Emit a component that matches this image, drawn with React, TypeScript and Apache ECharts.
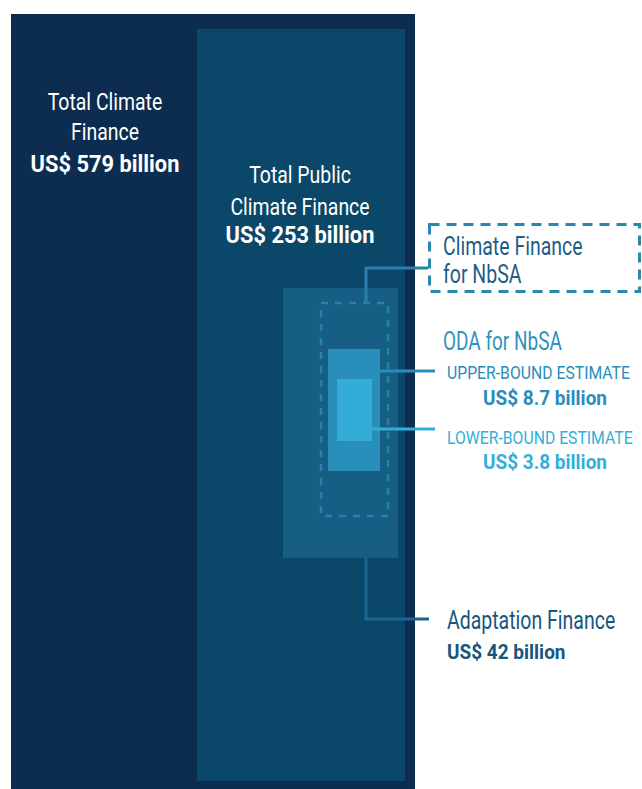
import React, { useEffect, useRef } from "react";
import * as echarts from "echarts";

// ---- values (US$ billion) ----
const categories = [
  "Total Climate Finance",
  "Total Public Climate Finance",
  "Adaptation Finance",
  "Climate Finance for NbSA",
  "ODA for NbSA – upper-bound estimate",
  "ODA for NbSA – lower-bound estimate",
];
const valuesBn: (number | null)[] = [579, 253, 42, null, 8.7, 3.8];
const money = (v: number | null) => `US$ ${v} billion`;

// ---- layout (in the hidden axes' units) ----
const W = 642;
const H = 789;
const rectBoxes = [
  [11, 14, 415, 789],
  [197, 29, 405, 781],
  [283, 288, 398, 558],
  [320, 302, 389, 517],
  [328, 349, 380, 471],
  [337, 379, 372, 441],
];
const rectFills = ["#0c2d4f", "#0a4769", "#175e84", "none", "#2a8ebb", "#34acd8"];
const legendBox = [428, 223, 641, 293];

const connectors = [
  { pts: [[366, 302], [366, 268], [428, 268]], color: "#2a80ab" },
  { pts: [[380, 371], [435, 371]], color: "#2a8ebb" },
  { pts: [[372, 429], [435, 429]], color: "#34acd8" },
  { pts: [[366, 558], [366, 619], [429, 619]], color: "#1b6590" },
];

const REG = 0.81;
const REG_R = 0.78;
const CAPS = 0.83;
const BOLD = 0.95;
const labels = [
  { p: [105, 102], t: "Total Climate", s: 24, w: 400, c: "#ffffff", a: "center", k: REG },
  { p: [105, 132], t: "Finance", s: 24, w: 400, c: "#ffffff", a: "center", k: REG },
  { p: [105, 164], t: money(valuesBn[0]), s: 23, w: 700, c: "#ffffff", a: "center", k: BOLD },
  { p: [300, 175], t: "Total Public", s: 24, w: 400, c: "#ffffff", a: "center", k: REG },
  { p: [300, 206.5], t: "Climate Finance", s: 24, w: 400, c: "#ffffff", a: "center", k: REG },
  { p: [300, 235], t: money(valuesBn[1]), s: 23, w: 700, c: "#ffffff", a: "center", k: BOLD },
  { p: [443, 246], t: "Climate Finance", s: 25, w: 400, c: "#1e5d86", a: "left", k: REG_R },
  { p: [443, 274], t: "for NbSA", s: 25, w: 400, c: "#1e5d86", a: "left", k: REG_R },
  { p: [443, 341], t: "ODA for NbSA", s: 25, w: 400, c: "#2e93c0", a: "left", k: 0.76 },
  { p: [447, 372.5], t: "UPPER-BOUND ESTIMATE", s: 19, w: 400, c: "#2b8cba", a: "left", k: CAPS },
  { p: [483, 398], t: money(valuesBn[4]), s: 20, w: 700, c: "#2b8cba", a: "left", k: BOLD },
  { p: [447, 437], t: "LOWER-BOUND ESTIMATE", s: 19, w: 400, c: "#36aed9", a: "left", k: CAPS },
  { p: [483, 462], t: money(valuesBn[5]), s: 20, w: 700, c: "#36aed9", a: "left", k: BOLD },
  { p: [447, 620.5], t: "Adaptation Finance", s: 25, w: 400, c: "#17567e", a: "left", k: REG_R },
  { p: [447, 652.5], t: money(valuesBn[2]), s: 20, w: 700, c: "#17567e", a: "left", k: BOLD },
];

export default function App() {
  const ref = useRef<HTMLDivElement>(null);
  useEffect(() => {
    if (!ref.current) return;
    const chart = echarts.init(ref.current, undefined, { renderer: "svg" });
    const rectData = rectBoxes.map((b, i) => ({ name: categories[i], value: b }));
    chart.setOption({
      animation: false,
      backgroundColor: "#ffffff",
      grid: { left: 0, right: 0, top: 0, bottom: 0 },
      xAxis: { type: "value", min: 0, max: W, show: false },
      yAxis: { type: "value", min: 0, max: H, inverse: true, show: false },
      series: [
        {
          type: "custom",
          name: "boxes",
          clip: false,
          silent: true,
          data: [...rectData, { name: "legend", value: legendBox }],
          renderItem: (params: any, api: any) => {
            const i = params.dataIndex;
            const a = api.coord([api.value(0), api.value(1)]);
            const b = api.coord([api.value(2), api.value(3)]);
            const shape = {
              x: Math.min(a[0], b[0]),
              y: Math.min(a[1], b[1]),
              width: Math.abs(b[0] - a[0]),
              height: Math.abs(b[1] - a[1]),
            };
            if (i === 3) {
              return {
                type: "rect",
                shape: { x: shape.x + 1, y: shape.y + 1, width: shape.width - 2, height: shape.height - 2 },
                style: { fill: "none", stroke: "#2b7fa9", lineWidth: 2.5, lineDash: [7, 7] },
              };
            }
            if (i === rectBoxes.length) {
              return {
                type: "rect",
                shape: { x: shape.x + 1.5, y: shape.y + 1.5, width: shape.width - 3, height: shape.height - 3 },
                style: { fill: "none", stroke: "#2a86b3", lineWidth: 3, lineDash: [10, 7] },
              };
            }
            return { type: "rect", shape, style: { fill: rectFills[i] } };
          },
        },
        {
          type: "custom",
          name: "connectors",
          clip: false,
          silent: true,
          data: connectors.map((c, i) => ({ value: [i, 0] })),
          renderItem: (params: any, api: any) => {
            const c = connectors[params.dataIndex];
            const points = c.pts.map((p) => api.coord(p));
            return {
              type: "polyline",
              shape: { points },
              style: { fill: "none", stroke: c.color, lineWidth: 3 },
            };
          },
        },
        {
          type: "custom",
          name: "labels",
          clip: false,
          silent: true,
          data: labels.map((l) => ({ value: l.p })),
          renderItem: (params: any, api: any) => {
            const l = labels[params.dataIndex];
            const pt = api.coord([api.value(0), api.value(1)]);
            return {
              type: "text",
              x: pt[0],
              y: pt[1],
              scaleX: l.k,
              style: {
                text: l.t,
                fill: l.c,
                font: `normal ${l.w} ${l.s}px Roboto`,
                textAlign: l.a,
                textVerticalAlign: "middle",
                align: l.a,
                verticalAlign: "middle",
              },
            };
          },
        },
      ],
    });
    return () => chart.dispose();
  }, []);
  return (
    <div
      ref={ref}
      style={{ position: "fixed", left: 0, top: 0, width: W, height: H }}
    />
  );
}
